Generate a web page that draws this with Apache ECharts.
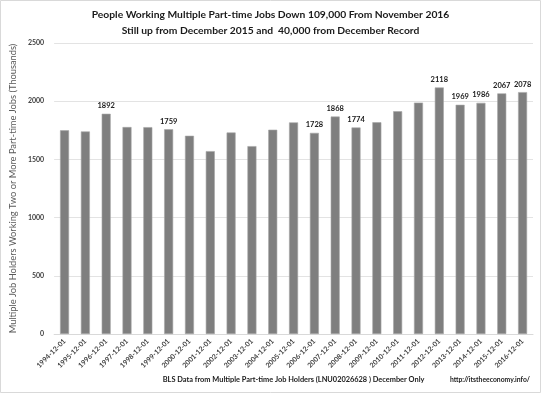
<!DOCTYPE html>
<html><head><meta charset="utf-8">
<script src="https://cdn.jsdelivr.net/npm/echarts@6/dist/echarts.min.js"></script>
<style>html,body{margin:0;padding:0;background:#fff}#c{width:541px;height:394px}</style>
</head><body><div id="c"></div>
<script>
const categories = ["1994-12-01","1995-12-01","1996-12-01","1997-12-01","1998-12-01","1999-12-01","2000-12-01","2001-12-01","2002-12-01","2003-12-01","2004-12-01","2005-12-01","2006-12-01","2007-12-01","2008-12-01","2009-12-01","2010-12-01","2011-12-01","2012-12-01","2013-12-01","2014-12-01","2015-12-01","2016-12-01"];
const values = [1750,1740,1892,1778,1777,1759,1703,1571,1731,1614,1755,1818,1728,1868,1774,1819,1914,1988,2118,1969,1986,2067,2078];
const labeled = ["1996-12-01","1999-12-01","2006-12-01","2007-12-01","2008-12-01","2012-12-01","2013-12-01","2014-12-01","2015-12-01","2016-12-01"];
const titleLines = ["People Working Multiple Part-time Jobs Down 109,000 From November 2016","Still up from December 2015 and  40,000 from December Record"];
const yAxisName = "Multiple Job Holders Working Two or More Part-time Jobs (Thousands)";
const xAxisName = "BLS Data from Multiple Part-time Job Holders (LNU02026628 ) December Only";
const credit = "http://itstheeconomy.info/";

const F = "Lato, 'Open Sans', sans-serif";
const chart = echarts.init(document.getElementById('c'));
chart.setOption({
  animation:false,
  backgroundColor:'#fff',
  title:{text:titleLines.join('\n'),left:'center',top:2,
    textStyle:{fontFamily:F,fontSize:10.3,fontWeight:'bold',color:'#1a1a1a',lineHeight:16}},
  grid:{left:43,right:8,top:43,bottom:60,containLabel:false},
  xAxis:{type:'category',data:categories,
    axisLine:{lineStyle:{color:'#d9d9d9'}},axisTick:{show:false},
    axisLabel:{rotate:45,interval:0,fontFamily:F,fontSize:7,fontWeight:'bold',color:'#404040',margin:6},
    name:xAxisName,nameLocation:'middle',nameGap:30,
    nameTextStyle:{fontFamily:F,fontSize:7.4,fontWeight:'bold',color:'#1a1a1a'}},
  yAxis:{type:'value',min:0,max:2500,interval:500,
    axisLine:{show:false},axisTick:{show:false},
    splitLine:{lineStyle:{color:'#e3e3e3'}},
    axisLabel:{fontFamily:F,fontSize:7,fontWeight:'bold',color:'#404040',margin:10,formatter:v=>String(v)},
    name:yAxisName,nameLocation:'middle',nameGap:26,
    nameTextStyle:{fontFamily:F,fontSize:9.3,color:'#595959'}},
  series:[{type:'bar',data:values.map((v,i)=>({value:v,label:{show:labeled.includes(categories[i])}})),
    barWidth:9,
    itemStyle:{color:'#7f7f7f',borderColor:'#a6a6a6',borderWidth:0.6},
    label:{position:'top',distance:4,fontFamily:F,fontSize:7.5,fontWeight:'bold',color:'#1a1a1a'}}],
  graphic:[
    {type:'text',right:11,top:376,style:{text:credit,fontFamily:F,fontSize:6.8,fontWeight:'bold',fill:'#1a1a1a'}},
    {type:'rect',shape:{x:0.5,y:0.5,width:540,height:392},style:{fill:'none',stroke:'#d9d9d9',lineWidth:1},silent:true}
  ]
});
</script></body></html>
